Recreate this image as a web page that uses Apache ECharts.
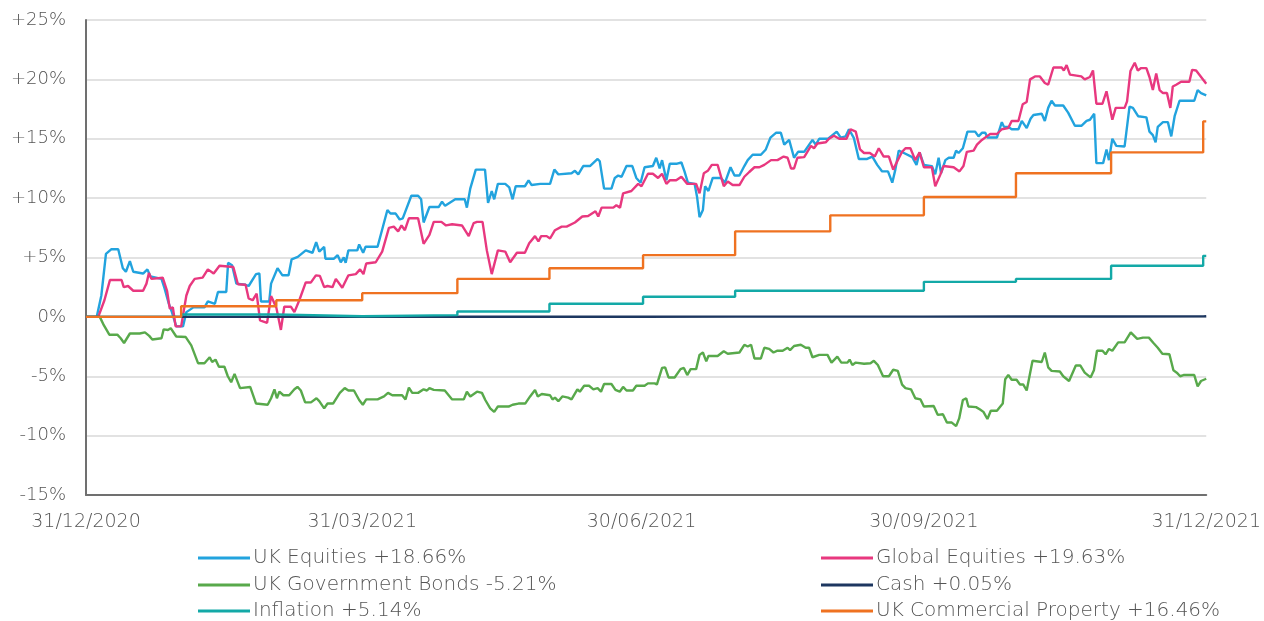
<!DOCTYPE html>
<html>
<head>
<meta charset="utf-8">
<script src="https://cdn.jsdelivr.net/npm/echarts@6/dist/echarts.min.js"></script>
<style>
  html, body { margin: 0; padding: 0; background: #fff; }
  #chart { width: 1264px; height: 621px; }
</style>
</head>
<body>
<div id="chart"></div>
<script>
// x values are days since 31/12/2020, y values are cumulative % return
const xTickDays = [0, 90, 181, 273, 365];
const xTickLabels = ['31/12/2020', '31/03/2021', '30/06/2021', '30/09/2021', '31/12/2021'];

const seriesNames = [
  'UK Equities +18.66%',
  'Global Equities +19.63%',
  'UK Government Bonds -5.21%',
  'Cash +0.05%',
  'Inflation +5.14%',
  'UK Commercial Property +16.46%'
];
const seriesColors = ['#22a3de', '#e8387f', '#58a94b', '#1d3760', '#13a9a7', '#ef7221'];

const ukEquities = [
  [0,0],[3.5,0],[5,1.8],[6.5,5.3],[8.3,5.7],[10.5,5.7],[12,4.1],[13,3.8],[14.3,4.7],[15.4,3.8],
  [18.6,3.65],[20,4.0],[21,3.4],[24.6,3.2],[25.6,2.4],[27,1.1],[28,0.4],[29.4,-0.8],[31.6,-0.8],[32.7,0.4],
  [35,0.8],[38.6,0.8],[39.7,1.3],[42,1.1],[43,2.1],[45.7,2.1],[46.3,4.55],[47.6,4.35],[49,2.8],[52,2.7],
  [53,2.6],[55.4,3.6],[56.5,3.65],[57,1.3],[59.7,1.3],[60.3,2.8],[62.4,4.1],[64,3.5],[66,3.5],[67,4.85],
  [69,5.05],[71.6,5.6],[73.8,5.4],[75,6.3],[76,5.5],[77.6,5.9],[78,4.9],[80.8,4.9],[82,5.2],[83,4.6],
  [84,5.0],[84.6,4.55],[85.5,5.6],[88.4,5.6],[89,6.1],[90.3,5.4],[91.1,5.9],[95,5.9],[98.2,9.0],[99.2,8.7],
  [100.9,8.7],[102.2,8.2],[103.2,8.3],[106,10.2],[108.2,10.2],[109.2,9.9],[110,7.95],[111.9,9.25],[114.9,9.25],[116,9.7],
  [117,9.35],[120.3,9.9],[123.4,9.9],[124.1,9.2],[125.2,10.8],[127,12.4],[130,12.4],[131,9.6],[132.2,10.6],[133,9.9],
  [134.2,11.2],[136.6,11.2],[137.9,10.9],[139,9.9],[140,11.0],[143,11.0],[144.2,11.5],[145.2,11.1],[148,11.2],[151.2,11.2],
  [152.6,12.4],[153.9,12.0],[158.2,12.1],[159.3,12.3],[160.4,12.0],[162,12.7],[164.2,12.7],[166.7,13.3],[167.4,13.1],[168.8,10.8],
  [171.2,10.8],[172.3,11.7],[173.4,11.9],[174.5,11.8],[176.1,12.7],[178,12.7],[179.3,11.7],[180.7,11.3],[182,12.6],[184.7,12.7],
  [185.8,13.4],[186.9,12.5],[187.7,13.2],[189.1,11.5],[190.2,12.9],[192.6,12.9],[194,13.0],[195,12.25],[196.1,11.3],[198.3,11.2],
  [199.1,10.1],[199.9,8.4],[201,9.0],[201.7,11.0],[202.8,10.6],[204.2,11.7],[206.9,11.7],[208.2,11.3],[210,12.6],[211.3,11.9],
  [212.9,11.9],[214.5,12.7],[215.6,13.2],[217.2,13.65],[219.9,13.65],[221.5,14.1],[223,15.1],[224.8,15.5],[226.4,15.5],[227.5,14.5],
  [229.1,14.9],[230.7,13.4],[232,13.9],[234,13.9],[236.7,14.9],[237.8,14.5],[238.9,15.0],[241.8,15.0],[243.2,15.3],[244.6,15.6],
  [245.9,15.1],[247.5,15.2],[248.6,15.8],[250.2,15.05],[251.8,13.3],[254.5,13.3],[256.2,13.5],[257.8,12.8],[259.4,12.25],[261.3,12.25],
  [262.7,11.3],[263.7,12.4],[264.8,14.0],[266.5,13.8],[269.2,13.45],[270.6,12.8],[271.6,13.85],[273,12.8],[275.6,12.7],[276.7,12.0],
  [277.8,13.4],[278.6,12.1],[280,13.2],[281.1,13.4],[282.7,13.4],[283.5,14.0],[284.3,13.8],[285.7,14.2],[287.2,15.6],[289.7,15.6],
  [290.8,15.2],[291.9,15.5],[293,15.5],[293.7,15.1],[296.8,15.1],[298.4,16.4],[299.1,16.0],[300.5,16.0],[301.6,15.8],[303.8,15.8],
  [304.9,16.5],[306.5,15.9],[307.8,16.7],[308.7,17.0],[311.4,17.1],[312.4,16.5],[313.5,17.6],[314.6,18.2],[315.7,17.8],[318.4,17.8],
  [320,17.2],[322.2,16.1],[324.4,16.1],[326,16.5],[327.1,16.6],[328.5,17.1],[329.2,12.95],[331.4,12.95],[332.5,14.1],[333.3,13.2],
  [334.4,15.0],[335.7,14.4],[338.4,14.35],[340,17.7],[341.1,17.6],[342.8,16.9],[345.5,16.8],[346.5,15.6],[347.6,15.3],[348.5,14.7],
  [349.2,16.0],[350.9,16.4],[352.5,16.4],[353.6,15.2],[354.7,16.9],[356.3,18.2],[361.1,18.2],[362.2,19.1],[363.3,18.85],[365,18.66]
];

const globalEquities = [
  [0,0],[4,0],[6,1.4],[7.8,3.1],[11.6,3.1],[12.3,2.5],[13.7,2.6],[15.4,2.2],[18.6,2.2],[19.7,2.8],
  [20.5,3.7],[21.3,3.2],[25,3.3],[26.4,2.2],[27.3,0.7],[28.3,0.8],[29.2,-0.8],[31,-0.8],[32.7,1.8],[33.8,2.6],
  [35.4,3.2],[38,3.3],[39.7,4.0],[41.6,3.65],[43.5,4.3],[48,4.2],[49.5,2.75],[52,2.7],[53,1.55],[54.3,1.4],
  [55.6,1.95],[56.7,-0.3],[59,-0.5],[60.3,1.75],[62,0.8],[63.5,-1.1],[64.6,0.85],[66.8,0.85],[67.9,0.4],[69.5,1.4],
  [71.6,2.9],[73.3,2.9],[74.9,3.5],[76.2,3.45],[77.6,2.5],[78.7,2.6],[80.3,2.5],[81.4,3.2],[83.5,2.45],[85.5,3.5],
  [87.9,3.6],[89.3,4.0],[90.4,3.6],[91.3,4.5],[94.4,4.6],[96.5,5.5],[98.7,7.5],[100.3,7.6],[101.7,7.2],[102.8,7.7],
  [103.9,7.3],[105.2,8.3],[108.2,8.3],[110,6.15],[111.9,6.9],[113.3,8.0],[115.8,8.0],[117.3,7.7],[119.3,7.8],[122.5,7.7],
  [124.7,6.8],[126.3,7.9],[127.4,8.0],[129.2,8.0],[130.6,5.6],[132.2,3.6],[134.2,5.6],[136.6,5.5],[138.2,4.6],[140.4,5.4],
  [143,5.4],[144.4,6.2],[146.3,6.8],[147.4,6.35],[148.3,6.8],[150.1,6.8],[151.2,6.6],[152.8,7.3],[155,7.6],[156.6,7.6],
  [159.3,7.95],[161.7,8.45],[163.6,8.5],[166,8.9],[166.9,8.45],[168,9.2],[171.8,9.2],[172.8,9.4],[174,9.2],[175,10.4],
  [177.7,10.6],[179.9,11.2],[181,11.0],[183.1,12.05],[184.7,12.05],[186.4,11.7],[187.7,12.05],[189.1,11.2],[190.2,11.5],[192.3,11.5],
  [194,11.8],[195.9,11.2],[198.8,11.2],[199.9,10.4],[201.3,12.1],[202.6,12.3],[203.9,12.8],[205.8,12.8],[207.8,11.0],[209.1,11.4],
  [210.7,11.1],[212.9,11.1],[214.5,11.8],[216.1,12.2],[217.8,12.6],[219.4,12.6],[221,12.8],[223.2,13.2],[225.3,13.2],[227.3,13.5],
  [228.6,13.4],[229.7,12.5],[230.7,12.5],[231.8,13.4],[234,13.45],[236.2,14.4],[237.2,14.2],[238.3,14.6],[241,14.7],[242.1,15.0],
  [243.7,15.25],[245.4,15.0],[247.8,15.0],[249.1,15.8],[250.8,15.6],[252.2,14.1],[253.5,13.8],[255.4,13.8],[257,13.5],[258.3,14.2],
  [259.9,13.5],[261.6,13.5],[263,12.4],[264.5,13.2],[265.9,13.9],[267,14.2],[268.6,14.2],[270.2,13.2],[271.6,13.85],[273,12.6],
  [275.6,12.6],[276.7,11.0],[278.4,12.0],[279.4,12.7],[282.7,12.6],[284.6,12.25],[285.9,12.7],[287,13.9],[289.2,14.0],[290.3,14.5],
  [291.9,14.9],[293.5,15.2],[294.6,15.4],[296.8,15.4],[298.4,15.8],[300.5,15.9],[301.6,16.5],[303.8,16.5],[305.2,17.9],[306.5,18.1],
  [307.6,20.0],[309.2,20.25],[310.8,20.25],[312.4,19.7],[313.5,19.55],[315.2,21.0],[317.9,21.0],[318.6,20.75],[319.5,21.2],[320.6,20.4],
  [324.3,20.25],[325.4,20.0],[327.1,20.2],[328.1,20.75],[329.2,17.95],[331.2,17.95],[332.5,19.0],[334.4,16.6],[335.5,17.6],[338.4,17.6],
  [339.2,18.15],[340.3,20.7],[341.7,21.4],[342.7,20.75],[343.8,20.95],[345.5,20.95],[346.5,20.2],[347.6,19.1],[348.7,20.5],[349.8,19.1],
  [350.9,18.85],[352.2,18.85],[353.3,17.6],[354.1,19.4],[355.2,19.55],[356.8,19.8],[359.5,19.8],[360.4,20.8],[361.7,20.75],[365,19.63]
];

const ukGovBonds = [
  [0,0],[4.5,0],[5.8,-0.7],[7.6,-1.5],[10.2,-1.5],[11.3,-1.8],[12.4,-2.2],[14.3,-1.4],[17.5,-1.4],[19.2,-1.3],
  [20.6,-1.6],[21.6,-1.9],[24.6,-1.8],[25.3,-1.05],[26.7,-1.1],[27.6,-0.95],[29.4,-1.65],[32.5,-1.7],[34.3,-2.4],[36.5,-3.9],
  [38.6,-3.9],[40.3,-3.4],[41.1,-3.8],[42.2,-3.6],[43.3,-4.2],[45.1,-4.2],[46.2,-5.0],[47.3,-5.5],[48.4,-4.8],[50.2,-6.0],
  [53.5,-5.9],[55.4,-7.3],[59.2,-7.4],[60.3,-6.85],[61.4,-6.1],[62.2,-6.85],[63,-6.3],[64.3,-6.6],[66.2,-6.6],[67.9,-6.1],
  [68.9,-5.9],[70,-6.2],[71.4,-7.2],[73.3,-7.2],[75.1,-6.85],[76,-7.1],[77.6,-7.7],[78.7,-7.3],[80.5,-7.3],[82.7,-6.4],
  [84.3,-6.0],[85.5,-6.2],[87.3,-6.2],[89,-7.0],[90.2,-7.4],[91.3,-6.95],[95,-6.95],[97.1,-6.7],[98.4,-6.4],[99.8,-6.6],
  [103,-6.6],[104.1,-6.95],[105.2,-5.95],[106.3,-6.4],[108.2,-6.4],[110,-6.1],[111.1,-6.2],[111.9,-6.0],[113.3,-6.15],[116.9,-6.2],
  [119.3,-6.95],[123.1,-6.95],[124.1,-6.3],[125.2,-6.7],[127.4,-6.3],[129,-6.4],[130.1,-7.0],[131.7,-7.7],[133,-8.0],[134.2,-7.55],
  [137.7,-7.55],[139,-7.4],[140.9,-7.3],[143.1,-7.3],[144.7,-6.7],[146.3,-6.15],[147.2,-6.7],[148.5,-6.5],[151.2,-6.6],[152,-6.95],
  [152.8,-6.8],[153.9,-7.1],[155.2,-6.7],[157.1,-6.8],[158.2,-6.95],[160.1,-6.1],[160.9,-6.3],[162.3,-5.8],[163.9,-5.8],[165.3,-6.1],
  [166.7,-6.0],[167.8,-6.3],[168.8,-5.65],[171.2,-5.65],[172.5,-6.15],[173.9,-6.3],[175,-5.9],[176.1,-6.2],[178.2,-6.2],[179.3,-5.8],
  [182,-5.8],[183.1,-5.6],[185.3,-5.6],[186,-5.7],[187.7,-4.3],[188.7,-4.25],[189.8,-5.1],[191.8,-5.1],[193.7,-4.4],[194.8,-4.3],
  [195.9,-4.9],[197,-4.4],[198.8,-4.4],[199.9,-3.2],[201,-3.0],[202.1,-3.75],[202.8,-3.3],[205.8,-3.3],[207.8,-2.9],[209.1,-3.1],
  [212.9,-3.0],[214.5,-2.35],[215.6,-2.5],[216.7,-2.35],[217.8,-3.5],[219.9,-3.5],[221,-2.6],[222.6,-2.7],[224,-3.0],[225.3,-2.85],
  [227,-2.85],[228.6,-2.6],[229.4,-2.8],[230.7,-2.45],[232.9,-2.35],[234.5,-2.6],[235.6,-2.6],[236.7,-3.4],[238.9,-3.2],[241.6,-3.2],
  [242.9,-3.85],[244.8,-3.35],[246.1,-3.85],[248.1,-3.85],[248.8,-3.6],[249.7,-4.05],[250.8,-3.85],[253.5,-3.95],[255.6,-3.9],[256.7,-3.7],
  [258,-4.05],[259.7,-5.0],[261.6,-5.0],[263,-4.45],[264.5,-4.55],[265.9,-5.7],[267,-6.0],[268.8,-6.1],[270.2,-6.85],[271.9,-6.95],
  [273,-7.55],[276.2,-7.5],[277.5,-8.25],[279.2,-8.2],[280.5,-8.9],[282.1,-8.9],[283.5,-9.2],[284.5,-8.55],[285.7,-7.0],[286.8,-6.85],
  [287.5,-7.55],[290,-7.6],[291.3,-7.8],[292.4,-8.0],[293.7,-8.6],[294.8,-7.9],[296.8,-7.9],[298.7,-7.3],[299.5,-5.25],[300.5,-4.9],
  [301.6,-5.3],[303.2,-5.3],[304.3,-5.7],[305.4,-5.7],[306.5,-6.2],[308.4,-3.7],[311.4,-3.8],[312.4,-3.0],[313.5,-4.25],[314.6,-4.55],
  [317.3,-4.6],[318.4,-5.0],[320.3,-5.4],[322.5,-4.1],[324,-4.1],[325.4,-4.7],[327.3,-5.1],[328.4,-4.5],[329.4,-2.85],[331.2,-2.85],
  [332.2,-3.15],[333.3,-2.7],[334.4,-2.85],[336.3,-2.15],[338.4,-2.15],[340.4,-1.3],[342.5,-1.85],[344.4,-1.75],[346.3,-1.75],[347.8,-2.2],
  [349.2,-2.6],[350.7,-3.1],[353,-3.15],[354.3,-4.5],[355.4,-4.7],[356.5,-5.0],[357.6,-4.9],[361.1,-4.9],[362.2,-5.85],[363.3,-5.4],
  [365,-5.21]
];

// monthly series: value holds from each step day on
const cash = [
  [0,0],[31,0.0],[62,0.01],[90,0.01],[121,0.01],[151,0.01],[181.5,0.02],[211.5,0.02],[242,0.02],[273,0.03],
  [303,0.03],[334,0.04],[364,0.05],[365,0.05]
];
const inflation = [
  [0,0],[31,0.2],[62,0.05],[90,0.15],[121,0.45],[151,1.1],[181.5,1.7],[211.5,2.2],[242,2.2],[273,2.95],
  [303,3.2],[334,4.3],[364,5.14],[365,5.14]
];
const property = [
  [0,0],[31,0.9],[62,1.4],[90,2.0],[121,3.2],[151,4.1],[181.5,5.2],[211.5,7.2],[242.5,8.55],[273,10.1],
  [303,12.1],[334,13.85],[364,16.46],[365,16.46]
];

const seriesData = [ukEquities, globalEquities, ukGovBonds, cash, inflation, property];
const stepped = [false, false, false, true, true, true];

// legend: two columns, three rows
const legendLeft = [198, 821, 198, 821, 198, 821];
const legendTop = [548, 548, 575, 575, 601, 601];

const FONT = 'DejaVu Sans';
const chart = echarts.init(document.getElementById('chart'));

const series = seriesData.map((d, i) => ({
  name: seriesNames[i],
  type: 'line',
  data: d,
  step: stepped[i] ? 'end' : false,
  showSymbol: false,
  symbol: 'none',
  lineStyle: { color: seriesColors[i], width: 2.4 },
  itemStyle: { color: seriesColors[i] },
  animation: false
}));

const legends = seriesNames.map((name, i) => ({
  data: [name],
  left: legendLeft[i],
  top: legendTop[i],
  padding: 0,
  icon: 'rect',
  itemWidth: 52,
  itemHeight: 3,
  selectedMode: false,
  textStyle: { fontFamily: FONT, fontWeight: 300, fontSize: 20, color: '#555', lineHeight: 20, padding: [0, 0, 0, -2] }
}));

chart.setOption({
  animation: false,
  backgroundColor: '#fff',
  grid: { left: 86, right: 54, top: 20, bottom: 126 },
  legend: legends,
  xAxis: {
    type: 'value',
    min: 0,
    max: 365,
    axisLine: { onZero: false, lineStyle: { color: '#707070', width: 2 } },
    axisTick: { show: false },
    splitLine: { show: false },
    axisLabel: {
      customValues: xTickDays,
      formatter: v => xTickLabels[xTickDays.indexOf(v)] || '',
      fontFamily: FONT,
      fontWeight: 300,
      fontSize: 19,
      color: '#555',
      margin: 18
    }
  },
  yAxis: {
    type: 'value',
    min: -15,
    max: 25,
    interval: 5,
    axisLine: { show: true, lineStyle: { color: '#707070', width: 2 } },
    axisTick: { show: false },
    splitLine: { lineStyle: { color: '#d8d8d8', width: 1.5 } },
    axisLabel: {
      formatter: v => (v > 0 ? '+' + v : '' + v) + '%',
      fontFamily: FONT,
      fontWeight: 300,
      fontSize: 18,
      color: '#555',
      margin: 20
    }
  },
  series: series
});
</script>
</body>
</html>
